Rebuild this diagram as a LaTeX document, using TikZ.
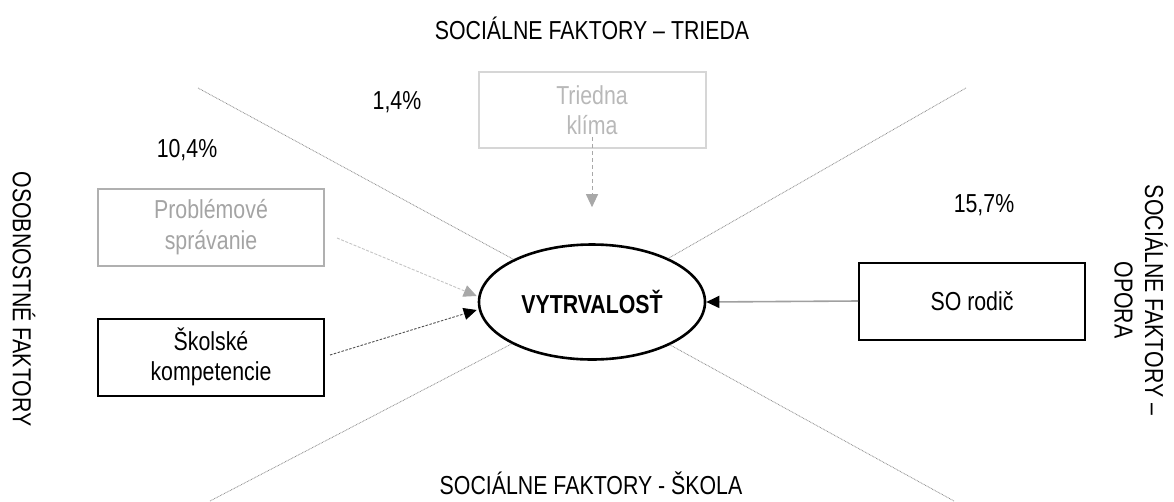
\documentclass[tikz,border=0pt]{standalone}
\usepackage{fontspec}
\setmainfont{Liberation Sans}[FakeStretch=0.82]
\usetikzlibrary{arrows.meta,calc,shapes.geometric}
\definecolor{diaggray}{HTML}{8C8C8C}
\definecolor{midgray}{HTML}{B0B0B0}
\definecolor{midtext}{HTML}{A4A4A4}
\definecolor{lightgray2}{HTML}{D6D6D6}
\definecolor{lighttext}{HTML}{B8B8B8}
\definecolor{arrgray}{HTML}{A8A8A8}
\definecolor{linegray}{HTML}{A0A0A0}
\definecolor{darkdash}{HTML}{505050}
\definecolor{proline}{HTML}{C4C4C4}
\begin{document}
\begin{tikzpicture}[x=1pt,y=-1pt,
  every node/.style={font=\fontsize{26}{30.5}\selectfont},
  lbl/.style={inner sep=0pt},
  boxblack/.style={draw=black,line width=2pt,minimum width=226pt,minimum height=77pt,align=center,inner sep=2pt},
  boxmid/.style={draw=midgray,line width=2pt,text=midtext,minimum width=226pt,minimum height=77pt,align=center,inner sep=2pt},
  boxlight/.style={draw=lightgray2,line width=2pt,text=lighttext,minimum width=227pt,minimum height=76pt,align=center,inner sep=2pt},
  ell/.style={ellipse,draw=black,line width=2.6pt,minimum width=226pt,minimum height=115pt,inner sep=0pt,font=\fontsize{26}{30.5}\selectfont\bfseries},
  diag/.style={draw=diaggray,line width=0.8pt,dash pattern=on 0.8pt off 0.8pt},
  tipgray/.style={-{Triangle[length=13pt,width=12pt,color=arrgray]}},
  tipblack/.style={-{Triangle[length=13pt,width=12pt,color=black]}}
]
\useasboundingbox (0,0) rectangle (1174,501);

% titles
\node[lbl] (ttop) at (592,28) {SOCIÁLNE FAKTORY – TRIEDA};
\node[lbl] (tbot) at (591,483) {SOCIÁLNE FAKTORY - ŠKOLA};
\node[lbl,rotate=-90] (tleft) at (24,299) {OSOBNOSTNÉ FAKTORY};
\node[lbl,rotate=-90,align=center] (tright) at (1141,300) {SOCIÁLNE FAKTORY –\\OPORA};

% percentages
\node[lbl] (p14) at (397,102) {1,4\%};
\node[lbl] (p104) at (187,150) {10,4\%};
\node[lbl] (p157) at (984,205) {15,7\%};

% diagonal separators
\coordinate (ul) at (198,88);
\coordinate (ur) at (966,88);
\coordinate (ll) at (210,501);
\coordinate (lr) at (954,501);

% main nodes
\node[ell] (v) at (592,302) {VYTRVALOSŤ};
\node[boxlight] (tk) at (592,110) {Triedna\\klíma};
\node[boxmid] (prob) at (211,227) {Problémové\\správanie};
\node[boxblack] (sk) at (211,357) {Školské\\kompetencie};
\node[boxblack] (so) at (972,301) {SO rodič};

\draw[diag] (ul) -- (v);
\draw[diag] (ur) -- (v);
\draw[diag] (ll) -- (v);
\draw[diag] (lr) -- (v);

% connectors
\draw[draw=arrgray,line width=1pt,dash pattern=on 4pt off 3pt,tipgray]
  ([yshift=-27pt]tk.center) -- ([yshift=36pt]v.north);
\draw[draw=proline,line width=0.9pt,dash pattern=on 3pt off 1.5pt,tipgray]
  ([xshift=12pt,yshift=-11pt]prob.east) -- ([xshift=-1pt,yshift=6pt]v.west);
\draw[draw=darkdash,line width=0.9pt,dash pattern=on 2.5pt off 1.5pt,tipblack]
  ([xshift=5pt,yshift=2pt]sk.east) -- ([xshift=-1pt,yshift=-8pt]v.west);
\draw[draw=linegray,line width=1.6pt,tipblack] (so.west) -- (v.east);
\end{tikzpicture}
\end{document}
